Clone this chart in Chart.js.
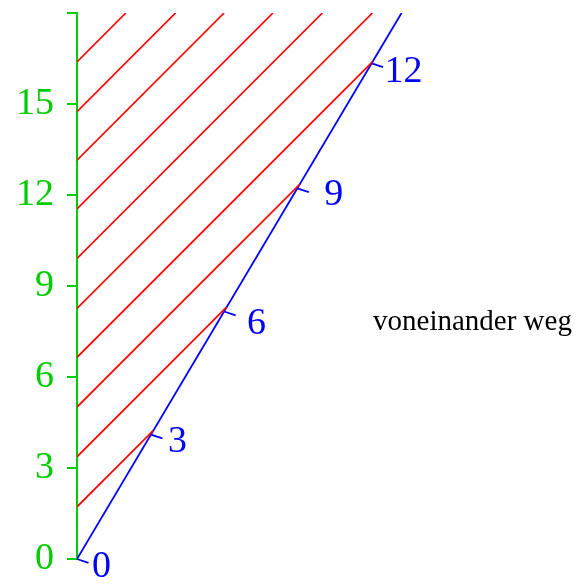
<!DOCTYPE html>
<html>
<head>
<meta charset="utf-8">
<script src="https://cdn.jsdelivr.net/npm/chart.js@4"></script>
<style>
  html, body { margin: 0; padding: 0; background: #fff; }
  #wrap { width: 582px; height: 584px; }
</style>
</head>
<body>
<div id="wrap"><canvas id="chart"></canvas></div>
<script>
/* --------------- Data ------------------------------------------ */
const yTicks = [0, 3, 6, 9, 12, 15, 18];
// blue worldline runs from the origin to this point
const worldlineEnd = { x: 10.7, t: 18 };
// clock ticks along the blue line (label, time on green axis)
const clockLabels = [0, 3, 6, 9, 12];
const clockTimes = [0, 4.1, 8.16, 12.22, 16.34];
// red light signals leave the green axis at these times
const signalStarts = [1.72, 3.37, 5.01, 6.65, 8.26, 9.91, 11.54, 13.15, 14.75, 16.39];
const noteText = "voneinander weg";
const notePos = { x: 9.76, t: 7.55 };

const GREEN = "#00cc00";
const BLUE = "#0000ff";
const RED = "#ff0000";
const FONT = "'Liberation Serif', 'Times New Roman', serif";
// label nudges (px) next to each clock tick
const labelNudge = [[15, 8.5], [17, 7], [23, 13], [27, 6.5], [13, 9]];

/* --------------- Signals: 45 degree lines up to the worldline or the top --------------------- */
const slope = worldlineEnd.x / worldlineEnd.t;
const signalSets = signalStarts.map((ts) => {
  let te = ts / (1 - slope);
  if (te > worldlineEnd.t) te = worldlineEnd.t;
  return {
    data: [{ x: 0, y: ts }, { x: te - ts, y: te }],
    showLine: true,
    borderColor: RED,
    borderWidth: 1.7,
    pointRadius: 0,
  };
});

/* --------------- Clock ticks and the note --------------------- */
const clockMarks = {
  id: "clockMarks",
  afterDatasetsDraw(chart) {
    const { ctx, scales: { x, y } } = chart;
    ctx.save();
    ctx.strokeStyle = BLUE;
    ctx.fillStyle = BLUE;
    ctx.lineWidth = 1.8;
    ctx.font = "38px " + FONT;
    ctx.textAlign = "left";
    ctx.textBaseline = "middle";
    clockTimes.forEach((t, i) => {
      const px = x.getPixelForValue(slope * t);
      const py = y.getPixelForValue(t);
      ctx.beginPath();
      ctx.moveTo(px, py);
      ctx.lineTo(px + 11.5, py + 3.8);
      ctx.stroke();
      ctx.fillText(String(clockLabels[i]), px + labelNudge[i][0], py + labelNudge[i][1]);
    });
    ctx.fillStyle = "#000";
    ctx.font = "29px " + FONT;
    ctx.textBaseline = "alphabetic";
    ctx.fillText(noteText, x.getPixelForValue(notePos.x), y.getPixelForValue(notePos.t));
    ctx.restore();
  },
};

/* --------------- Chart --------------------- */
new Chart(document.getElementById("chart"), {
  type: "scatter",
  plugins: [clockMarks],
  data: {
    datasets: [
      ...signalSets,
      {
        data: [{ x: 0, y: 0 }, { x: worldlineEnd.x, y: worldlineEnd.t }],
        showLine: true,
        borderColor: BLUE,
        borderWidth: 1.8,
        pointRadius: 0,
      },
    ],
  },
  options: {
    responsive: true,
    maintainAspectRatio: false,
    animation: false,
    layout: { padding: { top: 13, bottom: 25, left: 0, right: 0 } },
    plugins: { legend: { display: false }, tooltip: { enabled: false } },
    scales: {
      x: { type: "linear", min: 0, max: 16.65, display: false },
      y: {
        type: "linear",
        min: 0,
        max: 18,
        afterBuildTicks: (scale) => {
          scale.ticks = yTicks.map((v) => ({ value: v }));
        },
        afterFit: (scale) => {
          scale.width = 77;
          scale.paddingTop = 0;
          scale.paddingBottom = 0;
        },
        ticks: {
          color: GREEN,
          padding: 13,
          font: { family: FONT, size: 38 },
          callback: (v) => (v === 18 ? "" : String(v)),
        },
        grid: { drawOnChartArea: false, color: GREEN, lineWidth: 2, tickLength: 10 },
        border: { color: GREEN, width: 2 },
      },
    },
  },
});
</script>
</body>
</html>
